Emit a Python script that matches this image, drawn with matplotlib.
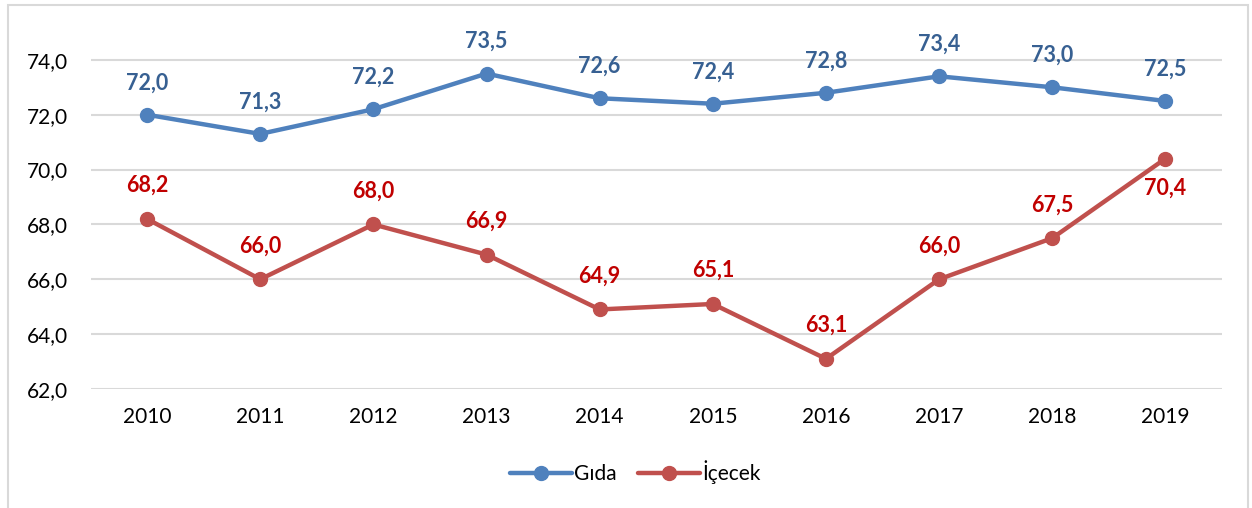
import matplotlib
matplotlib.use("Agg")
import matplotlib.pyplot as plt
from matplotlib.patches import Rectangle

years = ["2010", "2011", "2012", "2013", "2014", "2015", "2016", "2017", "2018", "2019"]
gida = [72.0, 71.3, 72.2, 73.5, 72.6, 72.4, 72.8, 73.4, 73.0, 72.5]
icecek = [68.2, 66.0, 68.0, 66.9, 64.9, 65.1, 63.1, 66.0, 67.5, 70.4]
yticks = [62.0, 64.0, 66.0, 68.0, 70.0, 72.0, 74.0]

plt.rcParams['font.family'] = ['Lato', 'DejaVu Sans']

W, H = 1252, 508
fig = plt.figure(figsize=(W / 100, H / 100), dpi=100)
fig.patches.append(Rectangle((8 / W, -0.1), (1248 - 8) / W, 1.1 - 5 / H,
                             transform=fig.transFigure, fill=False,
                             edgecolor="#d9d9d9", linewidth=1.5))

ax = fig.add_axes([90.5 / W, 1 - 389 / H, (1222 - 90.5) / W, (389 - 5) / H])
x = list(range(len(years)))
blue, red = "#4F81BD", "#C0504D"
ax.plot(x, gida, color=blue, lw=3.2, marker="o", ms=10, label="Gıda",
        solid_capstyle="round", zorder=3)
ax.plot(x, icecek, color=red, lw=3.2, marker="o", ms=10, label="İçecek",
        solid_capstyle="round", zorder=3)

def fmt(v):
    return f"{v:.1f}".replace(".", ",")

for i, v in enumerate(gida):
    ax.annotate(fmt(v), (i, v), xytext=(0, 23), textcoords="offset points",
                ha="center", va="center", fontsize=15.5, fontweight="bold",
                color="#376092")
for i, v in enumerate(icecek):
    off = -21 if i == len(icecek) - 1 else 24
    ax.annotate(fmt(v), (i, v), xytext=(0, off), textcoords="offset points",
                ha="center", va="center", fontsize=15.5, fontweight="bold",
                color="#C00000")

ax.set_xlim(-0.5, len(years) - 0.5)
ax.set_ylim(62, 76)
ax.set_yticks(yticks)
ax.set_yticklabels([fmt(t) for t in yticks])
ax.set_xticks(x)
ax.set_xticklabels(years)
ax.tick_params(axis="both", length=0, labelsize=15, colors="black")
ax.tick_params(axis="y", pad=16)
ax.tick_params(axis="x", pad=13)
ax.grid(axis="y", color="#d9d9d9", lw=1.5)
ax.set_axisbelow(True)
for s in ax.spines.values():
    s.set_visible(False)

leg = fig.legend(loc="center", bbox_to_anchor=(635 / W, 1 - 472 / H), ncol=2,
                 frameon=False, fontsize=15, handlelength=3.0,
                 columnspacing=1.0, handletextpad=0.1)

fig.savefig("out.png", dpi=100)
